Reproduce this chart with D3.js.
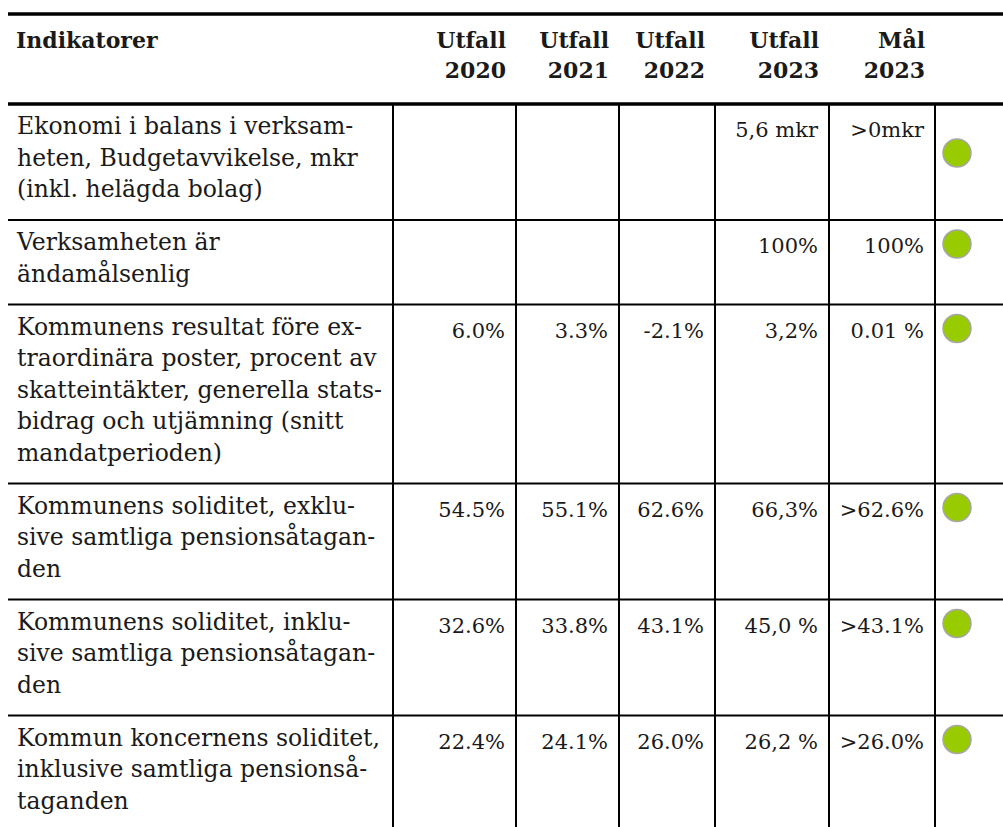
<!DOCTYPE html>
<html>
<head>
<meta charset="utf-8">
<script src="https://cdn.jsdelivr.net/npm/d3@7"></script>
<style>
  html, body { margin: 0; padding: 0; background: #fff; }
  svg text { font-family: 'Palatino Linotype', 'Book Antiqua', Palatino, 'DejaVu Serif', serif; fill: #1a1a1a; }
</style>
</head>
<body>
<script>
// ---- data ----
var headers = [["Utfall", "2020"], ["Utfall", "2021"], ["Utfall", "2022"], ["Utfall", "2023"], ["Mål", "2023"]];

// indicator names, wrapped like in the source document
var indicators = [
    ["Ekonomi i balans i verksam-", "heten, Budgetavvikelse, mkr", "(inkl. helägda bolag)"],
    ["Verksamheten är", "ändamålsenlig"],
    ["Kommunens resultat före ex-", "traordinära poster, procent av", "skatteintäkter, generella stats-", "bidrag och utjämning (snitt", "mandatperioden)"],
    ["Kommunens soliditet, exklu-", "sive samtliga pensionsåtagan-", "den"],
    ["Kommunens soliditet, inklu-", "sive samtliga pensionsåtagan-", "den"],
    ["Kommun koncernens soliditet,", "inklusive samtliga pensionså-", "taganden"]
];

var utfall2020 = ["", "", "6.0%", "54.5%", "32.6%", "22.4%"];
var utfall2021 = ["", "", "3.3%", "55.1%", "33.8%", "24.1%"];
var utfall2022 = ["", "", "-2.1%", "62.6%", "43.1%", "26.0%"];
var utfall2023 = ["5,6 mkr", "100%", "3,2%", "66,3%", "45,0 %", "26,2 %"];
var mal2023 = [">0mkr", "100%", "0.01 %", ">62.6%", ">43.1%", ">26.0%"];
var status = ["ok", "ok", "ok", "ok", "ok", "ok"];

// ---- layout ----
var width = 1003,
    height = 827,
    left = 8,
    fontSize = 23.5,
    numSize = 21,
    lineH = 31.5,
    rowPad = 21.5,
    headTop = 14,
    headBottom = 104;

var columns = ["name", "c2020", "c2021", "c2022", "c2023", "mal", "status"];
// right edge of every column
var colRight = d3.scaleOrdinal()
    .domain(columns)
    .range([393, 516, 619, 715, 829, 935, width]);

var statusColor = d3.scaleOrdinal().domain(["ok"]).range(["#99cc00"]);

var values = [utfall2020, utfall2021, utfall2022, utfall2023, mal2023];

var rowTops = [headBottom];
indicators.forEach(function (d, i) {
    rowTops.push(rowTops[i] + rowPad + d.length * lineH);
});

var svg = d3.select("body").append("svg")
    .attr("width", width)
    .attr("height", height);

svg.append("rect").attr("width", width).attr("height", height).attr("fill", "#fff");

// header
var head = svg.append("g").attr("font-weight", "bold").attr("font-size", 22);
head.append("text")
    .attr("x", left + 8)
    .attr("y", 48)
    .text("Indikatorer");

headers.forEach(function (h, i) {
    var x = colRight(columns[i + 1]) - 10;
    head.append("text")
        .attr("text-anchor", "end")
        .attr("x", x)
        .selectAll("tspan")
        .data(h)
        .enter().append("tspan")
        .attr("x", x)
        .attr("y", function (d, j) { return 48 + j * 30; })
        .text(function (d) { return d; });
});

// rows
var rows = svg.selectAll("g.row")
    .data(indicators)
    .enter().append("g")
    .attr("class", "row")
    .attr("transform", function (d, i) { return "translate(0," + rowTops[i] + ")"; });

rows.append("text")
    .attr("x", left + 9)
    .attr("font-size", fontSize)
    .selectAll("tspan")
    .data(function (d) { return d; })
    .enter().append("tspan")
    .attr("x", left + 9)
    .attr("y", function (d, j) { return 30 + j * lineH; })
    .text(function (d) { return d; });

values.forEach(function (col, c) {
    rows.append("text")
        .attr("text-anchor", "end")
        .attr("font-size", numSize)
        .attr("x", colRight(columns[c + 1]) - 11)
        .attr("y", 33)
        .text(function (d, i) { return col[i]; });
});

// status dots (the first one sits a line lower in the source)
rows.append("circle")
    .attr("cx", colRight("mal") + 22)
    .attr("cy", function (d, i) { return i === 0 ? 49 : 24; })
    .attr("r", 14)
    .attr("fill", function (d, i) { return statusColor(status[i]); })
    .attr("stroke", "#a6a6a6")
    .attr("stroke-width", 1.5);

// grid lines
var grid = svg.append("g").attr("stroke", "#000");

rowTops.slice(1).forEach(function (y) {
    grid.append("line")
        .attr("x1", left).attr("x2", width)
        .attr("y1", y).attr("y2", y)
        .attr("stroke-width", 2);
});

columns.slice(0, -1).forEach(function (c) {
    grid.append("line")
        .attr("x1", colRight(c)).attr("x2", colRight(c))
        .attr("y1", headBottom).attr("y2", height)
        .attr("stroke-width", 2);
});

[headTop, headBottom].forEach(function (y) {
    grid.append("line")
        .attr("x1", left).attr("x2", width)
        .attr("y1", y).attr("y2", y)
        .attr("stroke-width", 3.3);
});
</script>
</body>
</html>
